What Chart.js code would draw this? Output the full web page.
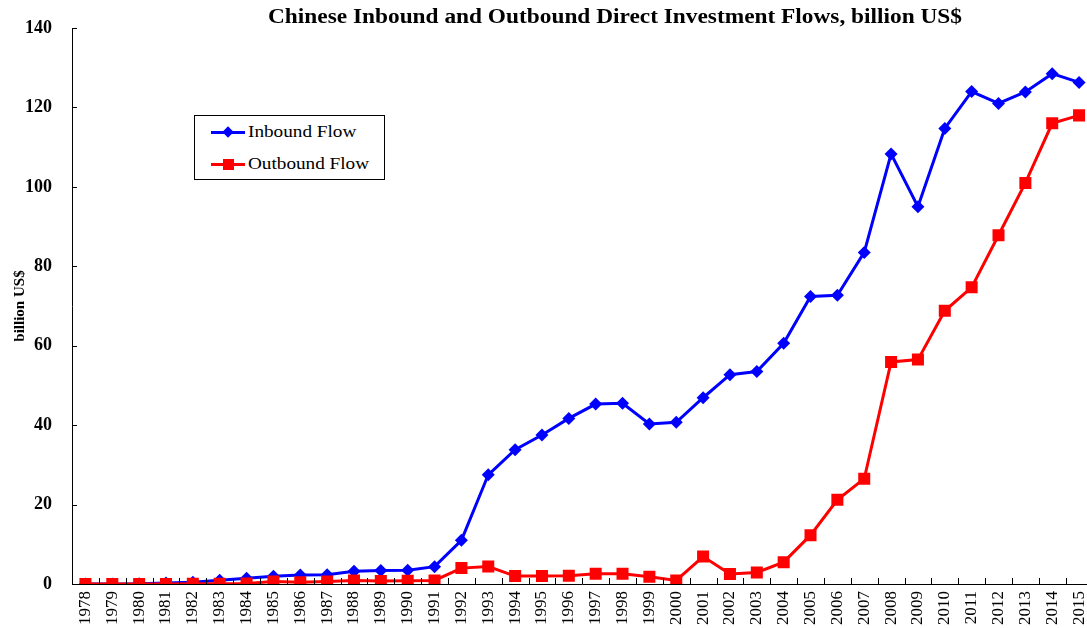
<!DOCTYPE html>
<html lang="en">
<head>
  <meta charset="UTF-8" />
  <title>Chinese Inbound and Outbound Direct Investment Flows</title>
  <script src="https://cdn.jsdelivr.net/npm/chart.js"></script>
  <style>
    html, body {
      margin: 0;
      padding: 0;
      background: #fff;
      overflow: hidden;
    }
    .wrap {
      position: relative;
      width: 1101px;
      height: 628px;
    }
    .legend {
      position: absolute;
      left: 194px;
      top: 115px;
      width: 189px;
      height: 63px;
      border: 1px solid #000;
      background: #fff;
      font-family: 'Liberation Serif', 'Times New Roman', serif;
      font-size: 16px;
      color: #000;
    }
    .legend .row {
      position: absolute;
      left: 16px;
      height: 20px;
      display: flex;
      align-items: center;
    }
    .legend .line {
      position: relative;
      width: 34px;
      height: 3px;
      margin-right: 3px;
    }
    .legend .txt {
      display: inline-block;
      transform: scaleX(1.2);
      transform-origin: left center;
    }
    .legend .mark {
      position: absolute;
      left: 50%;
      top: 50%;
    }
    .mark.diamond {
      width: 8px; height: 8px;
      margin: -4px 0 0 -4px;
      transform: rotate(45deg);
      background: #0000ff;
    }
    .mark.square {
      width: 11px; height: 11px;
      margin: -5.5px 0 0 -5.5px;
      background: #ff0000;
    }
  </style>
</head>
<body>
  <div class="wrap">
    <canvas id="chart" width="1101" height="628"></canvas>
    <div class="legend">
      <div class="row" style="top: 6px;">
        <span class="line" style="background:#0000ff;"><span class="mark diamond"></span></span>
        <span class="txt">Inbound Flow</span>
      </div>
      <div class="row" style="top: 38px;">
        <span class="line" style="background:#ff0000;"><span class="mark square"></span></span>
        <span class="txt">Outbound Flow</span>
      </div>
    </div>
  </div>
  <script>
    const chartTitle = 'Chinese Inbound and Outbound Direct Investment Flows, billion US$';
    const years = ['1978', '1979', '1980', '1981', '1982', '1983', '1984', '1985', '1986', '1987',
      '1988', '1989', '1990', '1991', '1992', '1993', '1994', '1995', '1996', '1997',
      '1998', '1999', '2000', '2001', '2002', '2003', '2004', '2005', '2006', '2007',
      '2008', '2009', '2010', '2011', '2012', '2013', '2014', '2015'];
    const inbound = [0, 0, 0.06, 0.27, 0.43, 0.92, 1.42, 1.96, 2.24, 2.31,
      3.19, 3.39, 3.49, 4.37, 11.0, 27.5, 33.8, 37.5, 41.7, 45.3,
      45.5, 40.3, 40.7, 46.9, 52.7, 53.5, 60.6, 72.4, 72.7, 83.5,
      108.3, 95.0, 114.7, 124.0, 121.0, 123.9, 128.5, 126.3];
    const outbound = [0, 0, 0, 0, 0.04, 0.09, 0.13, 0.63, 0.45, 0.65,
      0.85, 0.78, 0.83, 0.91, 4.0, 4.4, 2.0, 2.0, 2.1, 2.6,
      2.6, 1.8, 0.9, 6.9, 2.5, 2.9, 5.5, 12.3, 21.2, 26.5,
      55.9, 56.5, 68.8, 74.7, 87.8, 101.0, 116.0, 118.0];

    const serif = "'Liberation Serif', 'Times New Roman', serif";

    // title (a bit stretched, as in the original) and inward tick marks
    const decor = {
      id: 'decor',
      afterDraw(chart) {
        const { ctx, chartArea, scales } = chart;
        ctx.save();
        ctx.fillStyle = '#000';
        ctx.font = 'bold 20px ' + serif;
        ctx.textAlign = 'center';
        ctx.textBaseline = 'middle';
        const w = ctx.measureText(chartTitle).width;
        ctx.translate(615, 18);
        ctx.scale(694 / w, 1);
        ctx.fillText(chartTitle, 0, 0);
        ctx.restore();

        ctx.save();
        ctx.strokeStyle = '#000';
        ctx.lineWidth = 1;
        ctx.beginPath();
        scales.y.ticks.forEach(t => {
          const y = Math.round(scales.y.getPixelForValue(t.value)) + 0.5;
          ctx.moveTo(chartArea.left, y);
          ctx.lineTo(chartArea.left + 5, y);
        });
        const step = (chartArea.right - chartArea.left) / years.length;
        for (let i = 0; i <= years.length; i++) {
          const x = Math.round(chartArea.left + i * step) + 0.5;
          ctx.moveTo(x, chartArea.bottom);
          ctx.lineTo(x, chartArea.bottom - 6);
        }
        ctx.stroke();
        ctx.restore();
      }
    };

    new Chart(document.getElementById('chart'), {
      type: 'line',
      data: {
        labels: years,
        datasets: [
          {
            label: 'Inbound Flow',
            data: inbound,
            borderColor: '#0000ff',
            backgroundColor: '#0000ff',
            borderWidth: 3,
            pointStyle: 'rectRot',
            pointRadius: 6.5,
            pointBorderWidth: 0,
            tension: 0,
            order: 2
          },
          {
            label: 'Outbound Flow',
            data: outbound,
            borderColor: '#ff0000',
            backgroundColor: '#ff0000',
            borderWidth: 3,
            pointStyle: 'rect',
            pointRadius: 8.5,
            pointBorderWidth: 0,
            tension: 0,
            order: 1
          }
        ]
      },
      options: {
        responsive: false,
        animation: false,
        layout: { padding: { top: 28, left: 8, right: 1, bottom: 2 } },
        plugins: {
          legend: { display: false },
          title: { display: false },
          tooltip: { enabled: false }
        },
        scales: {
          x: {
            offset: true,
            border: { color: '#000', width: 1 },
            grid: { display: false },
            ticks: {
              color: '#000',
              font: { family: serif, size: 17 },
              minRotation: 90,
              maxRotation: 90,
              autoSkip: false,
              padding: -1
            },
            afterFit(scale) {
              scale.height = 42;
              scale.paddingLeft = 0;
              scale.paddingRight = 0;
            }
          },
          y: {
            min: 0,
            max: 140,
            border: { color: '#000', width: 1 },
            grid: { display: false },
            ticks: {
              stepSize: 20,
              color: '#000',
              font: { family: serif, size: 18, weight: 'bold' },
              padding: 12
            },
            title: {
              display: true,
              text: 'billion US$',
              color: '#000',
              font: { family: serif, size: 15, weight: 'bold' },
              padding: { top: 3, bottom: 0 }
            },
            afterFit(scale) {
              scale.width = 64;
            }
          }
        }
      },
      plugins: [decor]
    });
  </script>
</body>
</html>
